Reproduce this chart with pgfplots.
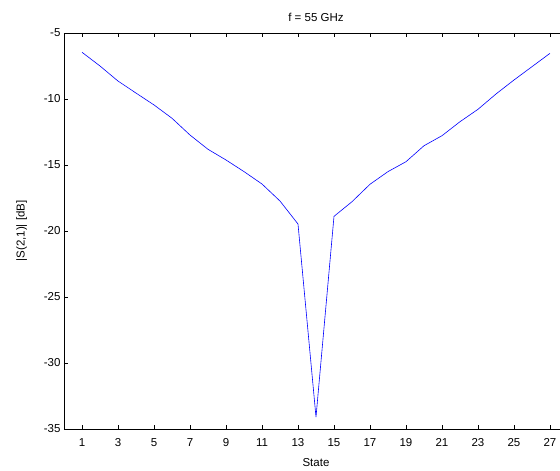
\documentclass[border=0pt]{standalone}
\usepackage{fontspec}
\setmainfont{Liberation Sans}
\usepackage{pgfplots}
\pgfplotsset{compat=1.18}

\begin{document}
\begin{tikzpicture}
\useasboundingbox (0,0) rectangle (560pt,471pt);
\begin{axis}[
  at={(64pt,42pt)}, anchor=south west,
  scale only axis,
  width=504pt, height=396pt,
  xmin=0, xmax=28,
  ymin=-35, ymax=-5,
  xtick={1,3,...,27},
  ytick={-35,-30,...,-5},
  tick align=inside,
  major tick length=4pt,
  tick pos=both,
  axis line style={line width=0.6pt},
  every tick/.style={black, line width=0.6pt},
  /pgf/number format/assume math mode=true,
  tick label style={font=\fontsize{11.5}{13}\selectfont},
  xticklabel shift=6pt,
  label style={font=\fontsize{11.5}{13}\selectfont},
  xlabel style={yshift=-5pt},
  ylabel style={yshift=10pt},
  title style={font=\fontsize{11.5}{13}\selectfont, yshift=2pt},
  title={f = 55 GHz},
  xlabel={State},
  ylabel={|S(2,1)| [dB]},
]
\addplot[color={rgb,255:red,0;green,0;blue,255}, line width=0.6pt] coordinates {
  (1,-6.46) (2,-7.50) (3,-8.64) (4,-9.55) (5,-10.45) (6,-11.46)
  (7,-12.73) (8,-13.81) (9,-14.62) (10,-15.50) (11,-16.44) (12,-17.73)
  (13,-19.47) (14,-34.10) (15,-18.89) (16,-17.78) (17,-16.46) (18,-15.50)
  (19,-14.75) (20,-13.54) (21,-12.78) (22,-11.72) (23,-10.78) (24,-9.62)
  (25,-8.56) (26,-7.55) (27,-6.54)
};
\end{axis}
\end{tikzpicture}
\end{document}
